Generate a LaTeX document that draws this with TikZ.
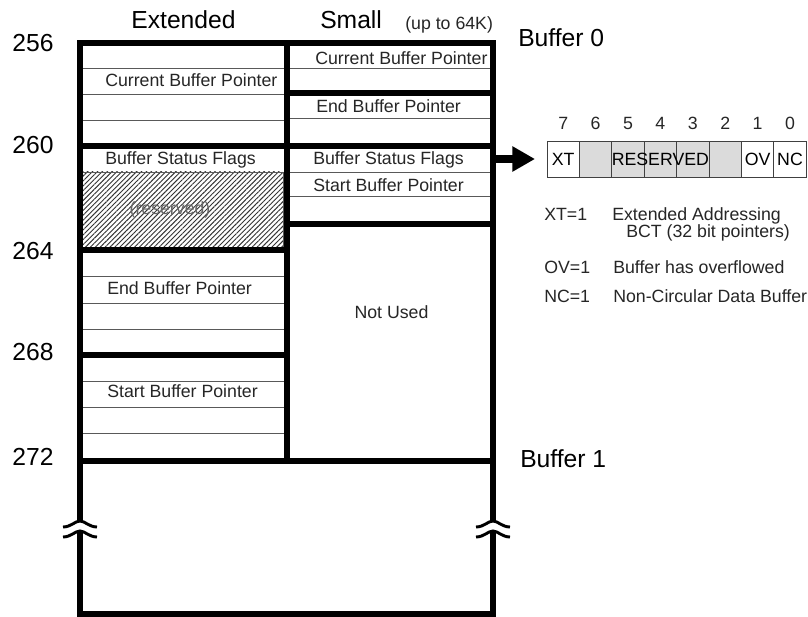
\documentclass[tikz,border=0pt]{standalone}
\usepackage{fontspec}
\setmainfont{Liberation Sans}
\usetikzlibrary{arrows.meta,positioning,patterns.meta}
\newcommand{\hdrsize}{\fontsize{18.5}{20}\selectfont}
\newcommand{\txtsize}{\fontsize{13.3}{14}\selectfont}
\newcommand{\breakmark}[1]{%
  \fill[white] (#1-4,521) rectangle (#1+4,531);
  \draw[line width=2.2pt]
    (#1-17,527) .. controls (#1-9,527) and (#1-5,521) .. (#1,521)
    .. controls (#1+5,521) and (#1+9,527) .. (#1+17,527);
  \draw[line width=2.2pt]
    (#1-17,537) .. controls (#1-9,537) and (#1-5,531) .. (#1,531)
    .. controls (#1+5,531) and (#1+9,537) .. (#1+17,537);}

\begin{document}
\begin{tikzpicture}[x=0.75pt,y=-0.75pt,
  thickrule/.style={line width=4pt},
  thinrule/.style={line width=0.7pt, black!65},
  fieldtext/.style={font=\txtsize, text=black!85, anchor=base west, inner sep=0pt},
  addrtext/.style={font=\hdrsize, inner sep=0pt},
  bitcell/.style={draw=black!75, line width=0.6pt, minimum width=24.3pt,
                  minimum height=27pt, inner sep=0pt, outer sep=0pt, font=\txtsize},
  graycell/.style={fill=black!14},
  bitnum/.style={font=\txtsize, text=black!85, inner sep=0pt}]

\path[fill=white] (0,0) rectangle (808,617);
\useasboundingbox (0,0) rectangle (808,617);

\node[addrtext, anchor=base] (hdrext) at (183.5,29) {Extended};
\node[addrtext, anchor=base west] (hdrsmall) at (320,29) {Small};
\node[fieldtext] (hdrnote) at (405,30) {(up to 64K)};

\node[addrtext] (a256) at (33,43) {256};
\node[addrtext] (a260) at (33,145) {260};
\node[addrtext] (a264) at (33,251) {264};
\node[addrtext] (a268) at (33,352) {268};
\node[addrtext] (a272) at (33,457) {272};

\fill[pattern={Lines[angle=45,distance=2.6pt,line width=0.7pt]}, pattern color=black!80]
  (82,172) rectangle (283,248);
\draw[thinrule] (82,172) rectangle (283,248);
\node[font=\txtsize, text=black!60] (resnote) at (170,210) {(reserved)};

\draw[thinrule]
  (80,68) -- (287,68)  (80,94) -- (287,94)  (80,120) -- (287,120)
  (80,172) -- (287,172)
  (80,276) -- (287,276)  (80,303) -- (287,303)  (80,329) -- (287,329)
  (80,381) -- (287,381)  (80,407) -- (287,407)  (80,433) -- (287,433)
  (287,68) -- (493,68)  (287,118) -- (493,118)
  (287,172) -- (493,172)  (287,196) -- (493,196);

\draw[thickrule]
  (80,146) -- (493,146)
  (80,250) -- (287,250)  (80,355) -- (287,355)
  (287,93) -- (493,93)  (287,224) -- (493,224)
  (80,461) -- (493,461)
  (287,43) -- (287,461);
\draw[thickrule] (80,43) rectangle (493,614);

\breakmark{80}
\breakmark{493}

\node[fieldtext] (extcur) at (105,87) {Current Buffer Pointer};
\node[fieldtext] (extflags) at (105,165) {Buffer Status Flags};
\node[fieldtext] (extend) at (107,294) {End Buffer Pointer};
\node[fieldtext] (extstart) at (107,397) {Start Buffer Pointer};

\node[fieldtext] (smcur) at (315,65) {Current Buffer Pointer};
\node[fieldtext] (smend) at (316,113) {End Buffer Pointer};
\node[fieldtext] (smflags) at (313,165) {Buffer Status Flags};
\node[fieldtext] (smstart) at (313,191) {Start Buffer Pointer};
\node[fieldtext, anchor=base] (unused) at (391.5,318) {Not Used};

\node[addrtext, anchor=base west] (buf0) at (518,47) {Buffer 0};
\node[addrtext, anchor=base west] (buf1) at (520,467) {Buffer 1};

\node[bitcell, anchor=west] (b7) at (547,159) {XT};
\node[bitcell, graycell, right=0pt of b7] (b6) {};
\node[bitcell, graycell, right=0pt of b6] (b5) {};
\node[bitcell, graycell, right=0pt of b5] (b4) {};
\node[bitcell, graycell, right=0pt of b4] (b3) {};
\node[bitcell, graycell, right=0pt of b3] (b2) {};
\node[bitcell, right=0pt of b2] (b1) {OV};
\node[bitcell, right=0pt of b1] (b0) {NC};
\node[font=\txtsize, inner sep=0pt] (resv) at (b4) {RESERVED};

\node[bitnum, above=8.25pt of b7] (n7) {7};
\node[bitnum, above=8.25pt of b6] (n6) {6};
\node[bitnum, above=8.25pt of b5] (n5) {5};
\node[bitnum, above=8.25pt of b4] (n4) {4};
\node[bitnum, above=8.25pt of b3] (n3) {3};
\node[bitnum, above=8.25pt of b2] (n2) {2};
\node[bitnum, above=8.25pt of b1] (n1) {1};
\node[bitnum, above=8.25pt of b0] (n0) {0};

\coordinate (flagout) at (493,159);
\draw[line width=6pt, -{Triangle[length=17pt,width=18pt]}, shorten >=9pt]
  (flagout) -- (b7);

\node[fieldtext] (xtkey) at (544,220) {XT=1};
\node[fieldtext] (xtdesc) at (612,220) {Extended Addressing};
\node[fieldtext] (xtdesc2) at (626,238) {BCT (32 bit pointers)};
\node[fieldtext] (ovkey) at (544,273) {OV=1};
\node[fieldtext] (ovdesc) at (613,273) {Buffer has overflowed};
\node[fieldtext] (nckey) at (544,302) {NC=1};
\node[fieldtext] (ncdesc) at (613,302) {Non-Circular Data Buffer};

\end{tikzpicture}
\end{document}
